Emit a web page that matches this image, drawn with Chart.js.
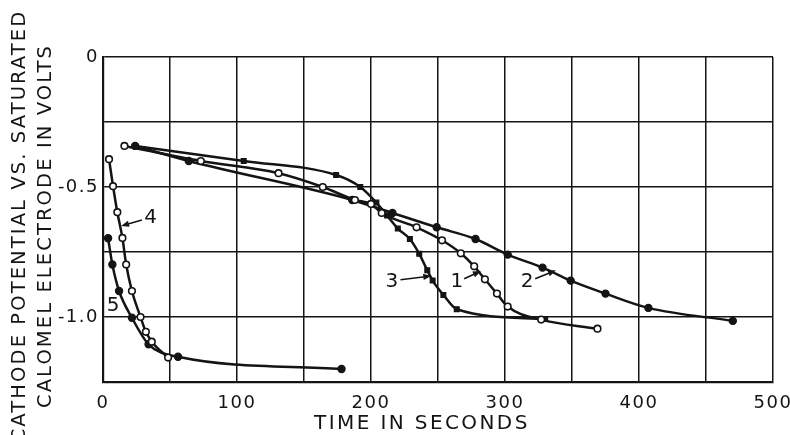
<!DOCTYPE html>
<html>
<head>
<meta charset="utf-8">
<script src="https://cdn.jsdelivr.net/npm/chart.js@4"></script>
<style>
  html, body { margin: 0; padding: 0; background: #fff; }
  canvas { display: block; }
</style>
</head>
<body>
<canvas id="chart" width="790" height="435"></canvas>
<script>
// curve 1 (open circles)
const time1 = [16, 73, 131, 164, 188, 200, 208, 234, 253, 267, 277, 285, 294, 302, 327, 369];
const volts1 = [-0.342, -0.40, -0.447, -0.50, -0.55, -0.565, -0.60, -0.655, -0.705, -0.755, -0.805, -0.855, -0.91, -0.96, -1.01, -1.045];
// curve 2 (filled circles)
const time2 = [24, 64, 186, 216, 249, 278, 302, 328, 349, 375, 407, 470];
const volts2 = [-0.342, -0.40, -0.55, -0.60, -0.655, -0.70, -0.76, -0.81, -0.86, -0.91, -0.965, -1.015];
// curve 3 (filled squares)
const time3 = [24, 105, 174, 192, 204, 212, 220, 229, 236, 242, 246, 254, 264, 330];
const volts3 = [-0.342, -0.40, -0.454, -0.50, -0.56, -0.61, -0.66, -0.70, -0.757, -0.82, -0.86, -0.915, -0.97, -1.008];
// curve 4 (open circles)
const time4 = [4.5, 7.5, 10.7, 14.5, 17.3, 21.6, 28, 32, 36.4, 48.6];
const volts4 = [-0.393, -0.497, -0.597, -0.696, -0.798, -0.90, -1.0, -1.057, -1.095, -1.156];
// curve 5 (filled circles)
const time5 = [3.8, 7, 12, 21.6, 34, 56, 178];
const volts5 = [-0.697, -0.798, -0.90, -1.003, -1.105, -1.153, -1.20];

const xTickLabels = [0, 100, 200, 300, 400, 500];
const yTickValues = [0, -0.5, -1.0];
const yTickText = ['0', '-0.5', '-1.0'];

const xTitle = 'TIME IN SECONDS';
const yTitle = ['CATHODE POTENTIAL VS. SATURATED', 'CALOMEL ELECTRODE IN VOLTS'];

// curve numbers with their arrows, in data units
const tags = [
  { text: '3', x: 215.5, y: -0.865, from: [222, -0.857], to: [245, -0.842] },
  { text: '1', x: 264, y: -0.865, from: [269.5, -0.853], to: [282, -0.823] },
  { text: '2', x: 316.5, y: -0.865, from: [322.5, -0.853], to: [338, -0.82] },
  { text: '4', x: 35.5, y: -0.62, from: [29, -0.627], to: [13.5, -0.65] },
  { text: '5', x: 7.5, y: -0.955 }
];

const ink = '#141414';

function pts(xs, ys) {
  return xs.map((v, i) => ({ x: v, y: ys[i] }));
}

function curve(xs, ys, style) {
  return Object.assign({
    data: pts(xs, ys),
    borderColor: ink,
    borderWidth: 2.5,
    cubicInterpolationMode: 'monotone',
    pointRadius: 3.6,
    pointBorderColor: ink,
    pointBorderWidth: 1.2,
    pointBackgroundColor: ink,
    fill: false
  }, style);
}

const openPt = { pointRadius: 3.3, pointBackgroundColor: '#fff', pointBorderWidth: 1.6 };

const spacing = {
  id: 'spacing',
  beforeLayout(chart) { chart.ctx.letterSpacing = '1.5px'; },
  beforeDraw(chart) { chart.ctx.letterSpacing = '1.5px'; }
};

function arrow(ctx, x1, y1, x2, y2) {
  const a = Math.atan2(y2 - y1, x2 - x1);
  const len = 8, w = 3.2;
  ctx.beginPath();
  ctx.moveTo(x1, y1);
  ctx.lineTo(x2 - Math.cos(a) * len * 0.8, y2 - Math.sin(a) * len * 0.8);
  ctx.stroke();
  ctx.beginPath();
  ctx.moveTo(x2, y2);
  ctx.lineTo(x2 - Math.cos(a) * len + Math.sin(a) * w, y2 - Math.sin(a) * len - Math.cos(a) * w);
  ctx.lineTo(x2 - Math.cos(a) * len - Math.sin(a) * w, y2 - Math.sin(a) * len + Math.cos(a) * w);
  ctx.closePath();
  ctx.fill();
}

const tagPlugin = {
  id: 'tags',
  afterDatasetsDraw(chart) {
    const ctx = chart.ctx;
    const xs = chart.scales.x, ys = chart.scales.y;
    ctx.save();
    ctx.letterSpacing = '0px';
    ctx.fillStyle = ink;
    ctx.strokeStyle = ink;
    ctx.lineWidth = 1.6;
    ctx.font = '20px "DejaVu Sans"';
    ctx.textAlign = 'center';
    ctx.textBaseline = 'middle';
    tags.forEach(t => {
      ctx.fillText(t.text, xs.getPixelForValue(t.x), ys.getPixelForValue(t.y));
      if (t.from) {
        arrow(ctx, xs.getPixelForValue(t.from[0]), ys.getPixelForValue(t.from[1]),
          xs.getPixelForValue(t.to[0]), ys.getPixelForValue(t.to[1]));
      }
    });

    // axis titles
    ctx.letterSpacing = '2.4px';
    ctx.font = '20px "DejaVu Sans"';
    ctx.fillText(xTitle, xs.getPixelForValue(238), 424);
    ctx.letterSpacing = '2.1px';
    ctx.font = '19.5px "DejaVu Sans"';
    ctx.translate(0, ys.getPixelForValue(-0.65));
    ctx.rotate(-Math.PI / 2);
    yTitle.forEach((line, i) => ctx.fillText(line, 0, 20 + i * 25.5));
    ctx.restore();
  }
};

Chart.defaults.font.family = '"DejaVu Sans", sans-serif';
Chart.defaults.color = ink;

new Chart(document.getElementById('chart'), {
  type: 'line',
  data: {
    datasets: [
      curve(time1, volts1, openPt),
      curve(time2, volts2, {}),
      curve(time3, volts3, { pointStyle: 'rect', pointRadius: 3.4 }),
      curve(time4, volts4, openPt),
      curve(time5, volts5, {})
    ]
  },
  options: {
    responsive: false,
    devicePixelRatio: 1,
    animation: false,
    layout: { padding: { top: 57, right: 17, left: 0, bottom: 0 } },
    plugins: { legend: { display: false }, tooltip: { enabled: false } },
    scales: {
      x: {
        type: 'linear',
        min: 0,
        max: 500,
        afterFit(s) { s.height = 53; s.paddingLeft = 0; s.paddingRight = 0; },
        ticks: {
          stepSize: 50,
          autoSkip: false,
          maxRotation: 0,
          padding: 11,
          font: { size: 18 },
          callback: v => xTickLabels.includes(v) ? String(v) : ''
        },
        grid: { color: ink, lineWidth: 1.5, drawTicks: false },
        border: { color: ink, width: 2.2 }
      },
      y: {
        min: -1.25,
        max: 0,
        afterFit(s) { s.width = 103; s.paddingTop = 0; s.paddingBottom = 0; },
        ticks: {
          stepSize: 0.25,
          autoSkip: false,
          padding: 4,
          font: { size: 18 },
          callback: v => {
            const i = yTickValues.findIndex(l => Math.abs(l - v) < 1e-6);
            return i < 0 ? '' : yTickText[i];
          }
        },
        grid: { color: ink, lineWidth: 1.5, drawTicks: false },
        border: { color: ink, width: 2.2 }
      }
    }
  },
  plugins: [spacing, tagPlugin]
});
</script>
</body>
</html>
